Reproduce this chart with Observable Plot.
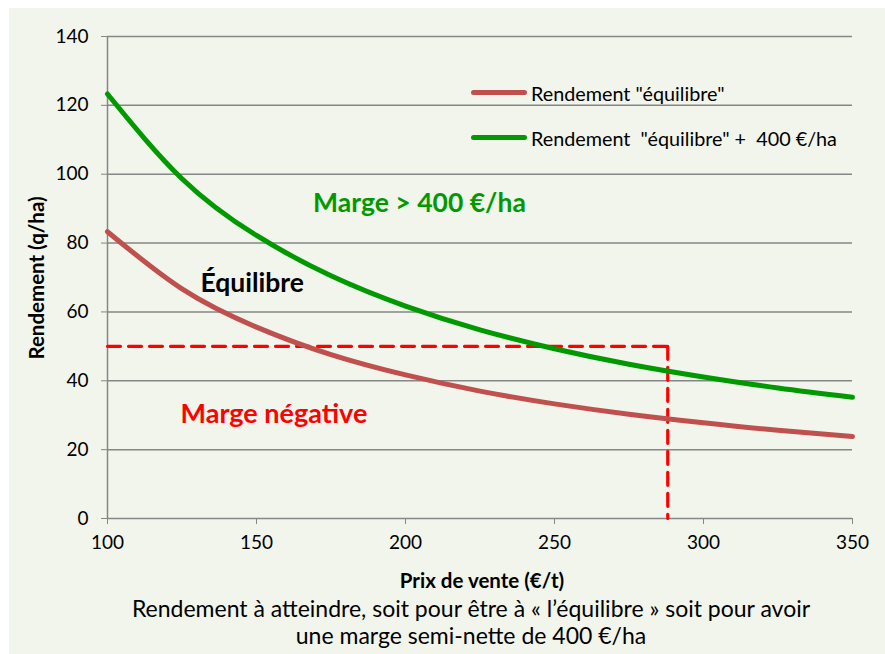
<!DOCTYPE html>
<html><head><meta charset="utf-8">
<script src="https://cdn.jsdelivr.net/npm/d3@7"></script>
<script src="https://cdn.jsdelivr.net/npm/@observablehq/plot@0.6"></script>
<style>
body{margin:0;background:#fff;}
#wrap{position:relative;width:885px;height:654px;background:#fff;overflow:hidden;font-family:Lato,"Open Sans",sans-serif;}
#panel{position:absolute;left:9px;top:8px;right:0;bottom:0;background:#f2f5eb;}
#chart{position:absolute;left:0;top:0;}
.leg{position:absolute;font-size:19.8px;line-height:24px;color:#000;white-space:pre;}
.sw{position:absolute;height:5px;border-radius:3px;width:56px;}
.axl{position:absolute;font-size:20.5px;font-weight:bold;color:#000;white-space:nowrap;line-height:24px;}
#cap{position:absolute;left:0;width:942px;top:595px;text-align:center;font-size:23px;line-height:27px;color:#000;}
</style></head>
<body>
<div id="wrap"><div id="panel"></div><div id="chart"></div>
<div class="sw" style="left:471px;top:90px;background:#c0504d"></div>
<div class="leg" style="left:531px;top:81px">Rendement "équilibre"</div>
<div class="sw" style="left:471px;top:135px;background:#009a00"></div>
<div class="leg" style="left:531px;top:126px">Rendement  "équilibre" +  400 €/ha</div>
<div class="axl" style="left:482px;top:580px;transform:translate(-50%,-50%)">Prix de vente (€/t)</div>
<div class="axl" style="left:36px;top:278px;transform:translate(-50%,-50%) rotate(-90deg)">Rendement (q/ha)</div>
<div id="cap">Rendement à atteindre, soit  pour être à « l’équilibre » soit pour avoir<br>une marge semi-nette de 400 €/ha</div>
</div>
<script>
const prix = [100,125,150,175,200,225,250,275,300,325,350];
const rendEquilibre = [83.3,66.7,55.6,47.6,41.7,37.0,33.3,30.3,27.8,25.6,23.8];
const rendMarge400 = [123.3,98.7,82.2,70.5,61.7,54.8,49.3,44.8,41.1,37.9,35.2];
const seuilRendement = 50;
const seuilPrix = 288;
const xTicks = [100,150,200,250,300,350];
const yTicks = [0,20,40,60,80,100,120,140];

const eq = prix.map((p,i)=>({x:p,y:rendEquilibre[i]}));
const mg = prix.map((p,i)=>({x:p,y:rendMarge400[i]}));
const dashH = [{x:prix[0],y:seuilRendement},{x:seuilPrix,y:seuilRendement}];
const dashV = [{x:seuilPrix,y:seuilRendement},{x:seuilPrix,y:0}];

const chart = Plot.plot({
  width:885, height:600,
  marginLeft:107, marginRight:33, marginTop:36, marginBottom:82,
  style:{background:"transparent", fontFamily:"Lato, 'Open Sans', sans-serif", fontSize:"19px", color:"#000"},
  x:{domain:[100,350]},
  y:{domain:[0,140]},
  marks:[
    Plot.gridY(yTicks,{stroke:"#868686",strokeOpacity:1,strokeWidth:1.5}),
    Plot.ruleX([100],{stroke:"#868686",strokeWidth:1.5}),
    Plot.axisX(xTicks,{tickSize:6,tickPadding:11,stroke:"#868686",fontSize:19,fill:"#000",label:null}),
    Plot.axisY(yTicks,{tickSize:6,tickPadding:13,stroke:"#868686",fontSize:19,fill:"#000",label:null}),
    Plot.line(dashH,{x:"x",y:"y",stroke:"#ff0000",strokeWidth:3.2,strokeDasharray:"13,8"}),
    Plot.line(dashV,{x:"x",y:"y",stroke:"#ff0000",strokeWidth:3.2,strokeDasharray:"13,8"}),
    Plot.line(eq,{x:"x",y:"y",stroke:"#c0504d",strokeWidth:5,curve:"natural"}),
    Plot.line(mg,{x:"x",y:"y",stroke:"#009a00",strokeWidth:5,curve:"natural"}),
    Plot.text(["Marge > 400 €/ha"],{x:169,y:91.5,text:d=>d,textAnchor:"start",fill:"#009a00",fontWeight:"bold",fontSize:26.5}),
    Plot.text(["Équilibre"],{x:131.2,y:68.3,text:d=>d,textAnchor:"start",fill:"#000",fontWeight:"bold",fontSize:26.5}),
    Plot.text(["Marge négative"],{x:124.5,y:30.2,text:d=>d,textAnchor:"start",fill:"#ff0000",fontWeight:"bold",fontSize:27})
  ]
});
document.getElementById("chart").appendChild(chart);
</script>
</body></html>
